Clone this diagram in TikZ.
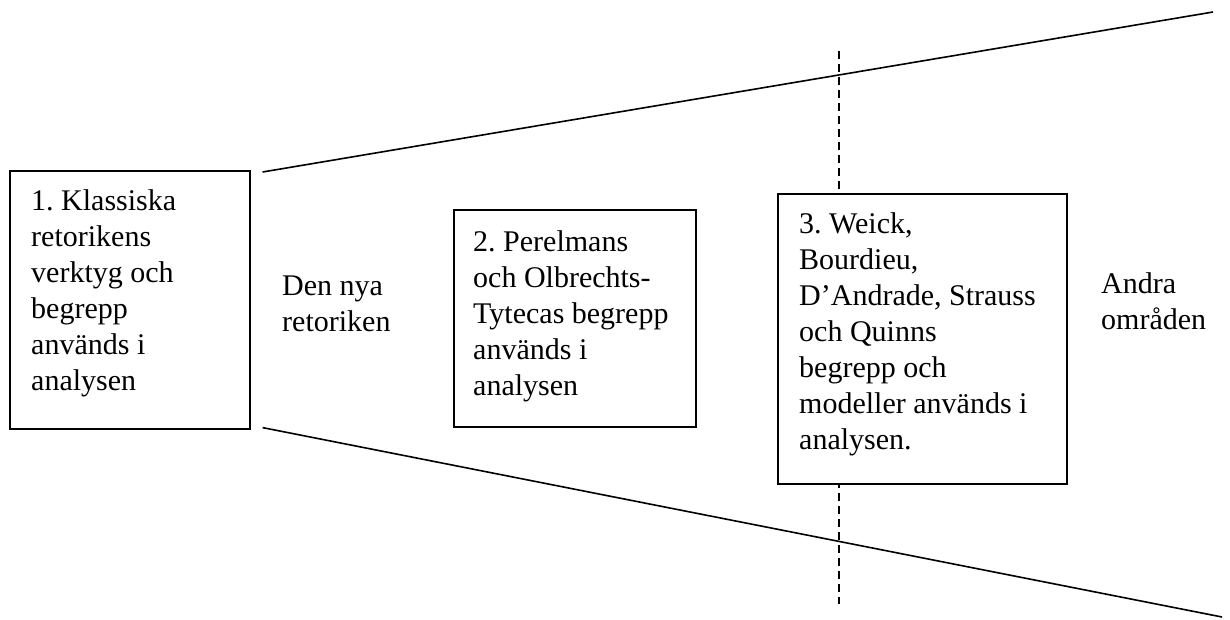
\documentclass[tikz,border=0pt]{standalone}
\usepackage{fontspec}
\setmainfont{Liberation Serif}
\usetikzlibrary{calc}
\frenchspacing
\tikzset{
  ruta/.style={draw,line width=1.6pt,fill=white,inner sep=0pt,anchor=north west},
  brodtext/.style={align=left,inner sep=0pt,anchor=north west,font=\fontsize{30}{36}\selectfont}
}
\begin{document}
\begin{tikzpicture}[x=1pt,y=-1pt]
  \useasboundingbox (0,0) rectangle (1230,619);
  % gräns
  \coordinate (gtop) at (839,51);
  \coordinate (gbot) at (839,604);
  \draw[dashed,dash pattern=on 8pt off 5pt,line width=1.3pt] (gtop) -- (gbot);
  % rutor
  \node[ruta,minimum width=240pt,minimum height=258pt] (k1) at (9,170) {};
  \node[ruta,minimum width=242pt,minimum height=217pt] (k2) at (453,209) {};
  \node[ruta,minimum width=289pt,minimum height=290pt] (k3) at (777,193) {};
  \node[brodtext] (t1) at ($(k1.north west)+(22,19)$)
    {1. Klassiska\\retorikens\\verktyg och\\begrepp\\används i\\analysen};
  \node[brodtext] (t2) at ($(k2.north west)+(20,21)$)
    {2. Perelmans\\och Olbrechts-\\Tytecas begrepp\\används i\\analysen};
  \node[brodtext] (t3) at ($(k3.north west)+(22,19)$)
    {3. Weick,\\Bourdieu,\\D’Andrade, Strauss\\och Quinns\\begrepp och\\modeller används i\\analysen.};
  \node[brodtext] (nya) at (282,276) {Den nya\\retoriken};
  \node[brodtext] (andra) at (1101,272) {Andra\\områden};
  % trattens kanter
  \coordinate (ut) at (1213,12);
  \coordinate (ub) at (1222,617);
  \draw[line width=1.6pt] ($(k1.north east)+(12,2)$) -- (ut);
  \draw[line width=1.6pt] ($(k1.south east)+(12,-2)$) -- (ub);
\end{tikzpicture}
\end{document}
